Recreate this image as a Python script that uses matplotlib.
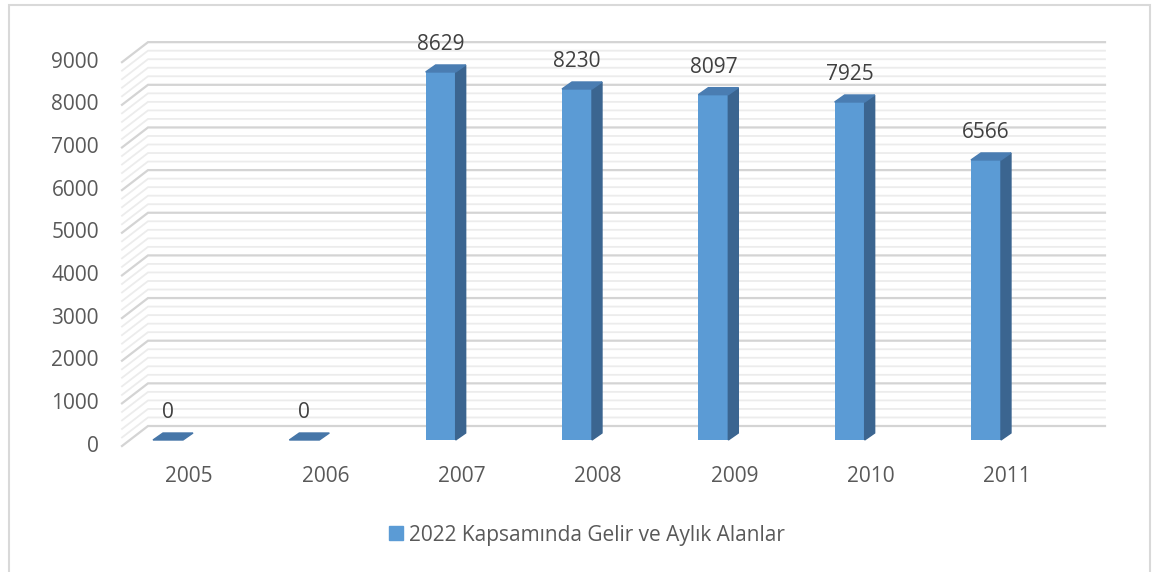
import matplotlib.pyplot as plt
from matplotlib.patches import Polygon, Rectangle, Patch

plt.rcParams['font.family'] = ['Open Sans', 'DejaVu Sans']

years = ['2005', '2006', '2007', '2008', '2009', '2010', '2011']
values = [0, 0, 8629, 8230, 8097, 7925, 6566]
series_name = '2022 Kapsamında Gelir ve Aylık Alanlar'
y_ticks = list(range(0, 9001, 1000))

W, H = 1160, 572
fig = plt.figure(figsize=(W / 100, H / 100), dpi=100)
ax = fig.add_axes([0, 0, 1, 1])

# pixel layout of the fake 3d chart
x0_px, step_px = 168, 136.33          # centre of first bar, spacing
y0_px, k = 440, 0.04265               # zero of bar front plane, px per unit
px_x = lambda p: (p - x0_px) / step_px
px_y = lambda p: (y0_px - p) / k
ux = 1 / step_px                      # one pixel in category units
uy = 1 / k                            # one pixel in value units

ax.set_xlim(px_x(0), px_x(W))
ax.set_ylim(px_y(H), px_y(0))
ax.axis('off')

fs = 15

# walls: back wall + left side depth lines
back_l, back_r, front_l = px_x(148), px_x(1105), px_x(122)
back_off, front_off = 14 * uy, -6 * uy
for v in range(0, 9001, 200):
    major = v % 1000 == 0
    c = '#d4d4d4' if major else '#ececec'
    lw = 1.6 if major else 1.3
    ax.plot([front_l, back_l, back_r], [v + front_off, v + back_off, v + back_off],
            color=c, lw=lw, solid_joinstyle='miter', zorder=1)

for v in y_ticks:
    ax.text(px_x(99), v + front_off, str(v), ha='right', va='center',
            fontsize=fs, color='#595959')

# bars
bw = 30 * ux
dx, dy = 10 * ux, 7 * uy
front_c, top_c, side_c = '#5b9bd5', '#4a7db2', '#3b6590'
for i, v in enumerate(values):
    l, r = i - bw / 2, i + bw / 2
    if v > 0:
        ax.bar(i, v, width=bw, color=front_c, zorder=3)
        ax.add_patch(Polygon([(r, 0), (r + dx, dy), (r + dx, v + dy), (r, v)],
                             closed=True, color=side_c, zorder=3))
    ax.add_patch(Polygon([(l, v), (r, v), (r + dx, v + dy), (l + dx, v + dy)],
                         closed=True, color=top_c if v > 0 else '#4676a8', zorder=3))
    ax.text(i, v + dy + 20 * uy, str(v), ha='center', va='center',
            fontsize=fs, color='#404040', zorder=4)
    ax.text(i + 21 * ux, px_y(477), years[i], ha='center', va='center',
            fontsize=fs, color='#595959')

fs_px = fs * 100 / 72
ax.legend(handles=[Patch(color=front_c, label=series_name)],
          loc='center', bbox_to_anchor=(587 / W, 1 - 535 / H),
          frameon=False, fontsize=fs, labelcolor='#595959',
          handlelength=14 / fs_px, handleheight=14 / fs_px, handletextpad=0.25)

# outer chart border
fig.patches.append(Rectangle((8.5 / W, -0.05), (1150 - 8.5) / W, 1.05 - 4.5 / H,
                             transform=fig.transFigure, fill=False,
                             edgecolor='#d9d9d9', lw=1.5))

fig.savefig('out.png', dpi=100)
